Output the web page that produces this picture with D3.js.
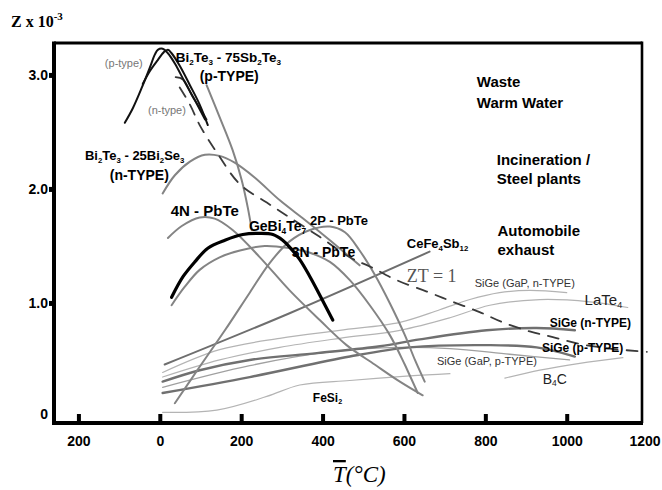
<!DOCTYPE html>
<html><head><meta charset="utf-8">
<script src="https://cdn.jsdelivr.net/npm/d3@7"></script>
<style>body{margin:0;background:#fff}svg{display:block}</style>
</head><body><svg id="c" width="662" height="490"></svg>
<script>
// ---------- data ----------
const xTicks = [-200, 0, 200, 400, 600, 800, 1000, 1200];
const xTickLabels = ["200", "0", "200", "400", "600", "800", "1000", "1200"];
const yTicks = [0, 1, 2, 3];
const yTickLabels = ["0", "1.0", "2.0", "3.0"];

// temperatures (°C) and Z (x10^-3 /K)
const biTeP1_T = [-86,-66,-44,-25,-12,-5,7,20,37,61,86,111];
const biTeP1_Z = [2.58,2.71,2.89,3.06,3.18,3.22,3.23,3.19,3.10,2.94,2.78,2.61];
const biTeP2_T = [-42,-25,-5,10,20,29,49,74,98,118];
const biTeP2_Z = [2.92,3.03,3.13,3.20,3.22,3.19,3.08,2.91,2.74,2.56];
const biTeN_T = [39,57,79,98,115];
const biTeN_Z = [2.98,2.96,2.82,2.71,2.61];
const biTe75_T = [115,147,179,201,216,226];
const biTe75_Z = [2.91,2.63,2.34,2.08,1.84,1.64];
const biTe25_T = [7,37,74,111,147,184,233,295,356,418,491];
const biTe25_Z = [1.96,2.12,2.24,2.30,2.29,2.23,2.10,1.90,1.73,1.55,1.33];
const pbTe4N_T = [20,54,98,135,179,246,319,393,459,528,590,646];
const pbTe4N_Z = [1.57,1.675,1.75,1.74,1.64,1.40,1.11,0.85,0.63,0.46,0.31,0.19];
const geBiTe_T = [29,57,86,118,160,204,246,278,302,319,344,369,393,425];
const geBiTe_Z = [1.05,1.23,1.36,1.48,1.55,1.60,1.61,1.60,1.55,1.49,1.38,1.23,1.07,0.85];
const pbTe3N_T = [29,61,98,147,197,258,319,369,418,467,516,565,602,634];
const pbTe3N_Z = [0.98,1.14,1.29,1.40,1.46,1.50,1.48,1.44,1.36,1.20,0.98,0.72,0.46,0.21];
const pbTe2P_T = [37,98,160,221,270,319,369,418,455,491,528,565,602,627,651];
const pbTe2P_Z = [0.12,0.44,0.76,1.09,1.35,1.54,1.64,1.67,1.62,1.46,1.25,1.00,0.72,0.50,0.31];
const ceFeSb_T = [12,319,663];
const ceFeSb_Z = [0.46,0.91,1.45];
const siGeGaPn_T = [7,147,295,442,590,688,762,835,909,1000];
const siGeGaPn_Z = [0.39,0.59,0.69,0.76,0.83,0.94,1.03,1.09,1.11,1.09];
const laTe_T = [7,147,295,442,590,713,811,934,1057,1150];
const laTe_Z = [0.35,0.50,0.61,0.69,0.76,0.87,0.98,1.03,1.01,0.96];
const siGeN_T = [7,98,221,386,541,639,803,926,1020];
const siGeN_Z = [0.31,0.41,0.50,0.56,0.62,0.68,0.76,0.78,0.76];
const siGeP_T = [7,221,467,614,803,926,1020];
const siGeP_Z = [0.21,0.35,0.53,0.61,0.63,0.61,0.53];
const siGeGaPp_T = [7,221,418,590,713,860,1007];
const siGeGaPp_Z = [0.26,0.45,0.57,0.61,0.60,0.55,0.50];
const b4c_T = [848,934,1032,1138];
const b4c_Z = [0.34,0.41,0.47,0.52];
const feSi2_T = [7,140,263,344,467,614,713];
const feSi2_Z = [0.04,0.06,0.18,0.28,0.32,0.36,0.38];
const zt1_T = [49,74,98,140,197,263,319,393,467,516,582,656,720,786,843,909,966,1032,1106,1197];
const zt1_Z = [2.89,2.74,2.56,2.32,2.04,1.88,1.75,1.58,1.40,1.32,1.20,1.10,1.01,0.92,0.83,0.75,0.70,0.64,0.60,0.57];

// label texts: [text parts], sub parts marked
const labelTexts = [
  [["Bi"],["2",1],["Te"],["3",1],[" - 75Sb"],["2",1],["Te"],["3",1]],
  [["(p-TYPE)"]],
  [["(p-type)"]],
  [["(n-type)"]],
  [["Bi"],["2",1],["Te"],["3",1],[" - 25Bi"],["2",1],["Se"],["3",1]],
  [["(n-TYPE)"]],
  [["4N - PbTe"]],
  [["GeBi"],["4",1],["Te"],["7",1]],
  [["2P - PbTe"]],
  [["3N - PbTe"]],
  [["CeFe"],["4",1],["Sb"],["12",1]],
  [["ZT = 1"]],
  [["Waste"]],
  [["Warm Water"]],
  [["Incineration /"]],
  [["Steel plants"]],
  [["Automobile"]],
  [["exhaust"]],
  [["SiGe (GaP, n-TYPE)"]],
  [["LaTe"],["4",1]],
  [["SiGe (n-TYPE)"]],
  [["SiGe (p-TYPE)"]],
  [["SiGe (GaP, p-TYPE)"]],
  [["B"],["4",1],["C"]],
  [["FeSi"],["2",1]]
];
const labelT = [39,98,-135,-29,-184,-123,27,219,369,324,607,607,779,779,828,828,830,830,774,1044,958,939,681,941,376];
const labelZ = [3.11,2.95,3.07,2.66,2.25,2.08,1.76,1.63,1.68,1.40,1.48,1.18,2.89,2.71,2.21,2.04,1.59,1.42,1.14,0.98,0.79,0.57,0.46,0.29,0.13];

// ---------- styles ----------
const GRAY = "#848484", LIGHT = "#b4b4b4", DARK = "#111";
const series = [
  {T: feSi2_T, Z: feSi2_Z, c: LIGHT, w: 1.2},
  {T: b4c_T, Z: b4c_Z, c: LIGHT, w: 1.2},
  {T: siGeGaPn_T, Z: siGeGaPn_Z, c: LIGHT, w: 1.2},
  {T: laTe_T, Z: laTe_Z, c: LIGHT, w: 1.2},
  {T: siGeGaPp_T, Z: siGeGaPp_Z, c: "#a0a0a0", w: 1.3},
  {T: siGeN_T, Z: siGeN_Z, c: "#707070", w: 2.4},
  {T: siGeP_T, Z: siGeP_Z, c: "#707070", w: 2.4},
  {T: ceFeSb_T, Z: ceFeSb_Z, c: "#6e6e6e", w: 2},
  {T: biTe25_T, Z: biTe25_Z, c: GRAY, w: 2},
  {T: biTe75_T, Z: biTe75_Z, c: GRAY, w: 2},
  {T: pbTe4N_T, Z: pbTe4N_Z, c: GRAY, w: 2},
  {T: pbTe3N_T, Z: pbTe3N_Z, c: GRAY, w: 2},
  {T: pbTe2P_T, Z: pbTe2P_Z, c: GRAY, w: 2},
  {T: zt1_T, Z: zt1_Z, c: "#3a3a3a", w: 1.8, dash: "11,9"},
  {T: biTeN_T, Z: biTeN_Z, c: "#333", w: 1.8},
  {T: biTeP1_T, Z: biTeP1_Z, c: DARK, w: 2},
  {T: biTeP2_T, Z: biTeP2_Z, c: DARK, w: 2},
  {T: geBiTe_T, Z: geBiTe_Z, c: "#000", w: 3.2}
];
const labelStyle = [
  {s:13.5,b:1},{s:14,b:1},{s:11,b:0,c:"#777"},{s:11,b:0,c:"#777"},{s:13,b:1},{s:14,b:1},
  {s:15,b:1},{s:14,b:1},{s:13,b:1},{s:14,b:1},{s:13,b:1},{s:18,b:0,c:"#555",f:"Liberation Serif"},
  {s:15,b:1},{s:15,b:1},{s:15,b:1},{s:15,b:1},{s:15,b:1},{s:15,b:1},
  {s:11,b:0,c:"#333"},{s:15,b:0,c:"#222"},{s:12,b:1},{s:12,b:1},{s:11,b:0,c:"#333"},{s:14,b:0,c:"#222"},{s:12,b:1}
];

// ---------- drawing ----------
const svg = d3.select("#c");
const x = d3.scaleLinear().domain([-260, 1185]).range([54, 642]);
const y = d3.scaleLinear().domain([-0.053, 3.28]).range([423, 43]);

const line = d3.line().x(d => x(d[0])).y(d => y(d[1])).curve(d3.curveCatmullRom.alpha(0.5));

svg.append("g").selectAll("path").data(series).join("path")
  .attr("d", s => line(s.T.map((t, i) => [t, s.Z[i]])))
  .attr("fill", "none").attr("stroke", s => s.c).attr("stroke-width", s => s.w)
  .attr("stroke-linecap", "round").attr("stroke-linejoin", "round")
  .attr("stroke-dasharray", s => s.dash || null);

// frame
const [x0, x1] = x.range(), [yb, yt] = y.range();
svg.append("line").attr("x1", x0).attr("x2", x1).attr("y1", yt).attr("y2", yt).attr("stroke", "#000").attr("stroke-width", 3);
svg.append("line").attr("x1", x1).attr("x2", x1).attr("y1", yt - 1.5).attr("y2", yb).attr("stroke", "#000").attr("stroke-width", 2.6);

// x axis
const xAxis = d3.axisBottom(x).tickValues(xTicks)
  .tickFormat((d, i) => xTickLabels[i]).tickSizeInner(-9).tickSizeOuter(0).tickPadding(13);
const gx = svg.append("g").attr("transform", `translate(0,${yb})`).call(xAxis);
gx.select(".domain").attr("stroke-width", 4).attr("d", `M${x0 - 2},0H${x1 + 1}`);
gx.selectAll(".tick line").attr("stroke-width", 4);
gx.selectAll(".tick").filter(d => d > 1185).select("line").remove();
gx.selectAll(".tick text").attr("font-family", "Liberation Sans, Arial, sans-serif")
  .attr("font-weight", "bold").attr("font-size", 14).attr("fill", "#000");
gx.selectAll(".tick").filter(d => d > 1185).select("text").attr("text-anchor", "end").attr("dx", 12);

// y axis
const yAxis = d3.axisLeft(y).tickValues(yTicks)
  .tickFormat((d, i) => yTickLabels[i]).tickSize(0).tickPadding(6);
const gy = svg.append("g").attr("transform", `translate(${x0},0)`).call(yAxis);
gy.select(".domain").attr("stroke-width", 4).attr("d", `M0,${yt - 1.5}V${yb + 2}`);
gy.selectAll(".tick text").attr("font-family", "Liberation Sans, Arial, sans-serif")
  .attr("font-weight", "bold").attr("font-size", 14).attr("fill", "#000")
  .attr("dy", (d) => d === 0 ? "0.1em" : "0.32em");
gy.selectAll(".tick").filter(d => d > 0).append("rect")
  .attr("x", -5).attr("y", -2.5).attr("width", 6).attr("height", 5).attr("fill", "#000");

// Y title
const yt0 = svg.append("text").attr("x", 11).attr("y", 27)
  .attr("font-family", "Liberation Serif, Times New Roman, serif").attr("font-weight", "bold").attr("font-size", 16);
yt0.append("tspan").text("Z x 10");
yt0.append("tspan").text("-3").attr("font-size", 11).attr("dy", -7);

// X title
const xt = svg.append("text").attr("x", 333).attr("y", 482)
  .attr("font-family", "Liberation Serif, Times New Roman, serif").attr("font-style", "italic").attr("font-size", 23);
xt.append("tspan").text("T").attr("text-decoration", "overline");
xt.append("tspan").text("(°C)");

// labels
labelTexts.forEach((parts, i) => {
  const st = labelStyle[i];
  const t = svg.append("text").attr("x", x(labelT[i])).attr("y", y(labelZ[i]))
    .attr("font-family", st.f || "Liberation Sans, Arial, sans-serif")
    .attr("font-weight", st.b ? "bold" : "normal").attr("font-size", st.s)
    .attr("fill", st.c || "#000");
  let inSub = false;
  parts.forEach(p => {
    const ts = t.append("tspan").text(p[0]);
    if (p[1] && !inSub) { ts.attr("font-size", st.s * 0.6).attr("dy", st.s * 0.18); inSub = true; }
    else if (p[1] && inSub) { ts.attr("font-size", st.s * 0.6); }
    else if (!p[1] && inSub) { ts.attr("dy", -st.s * 0.18); inSub = false; }
  });
});
</script>
</body></html>
